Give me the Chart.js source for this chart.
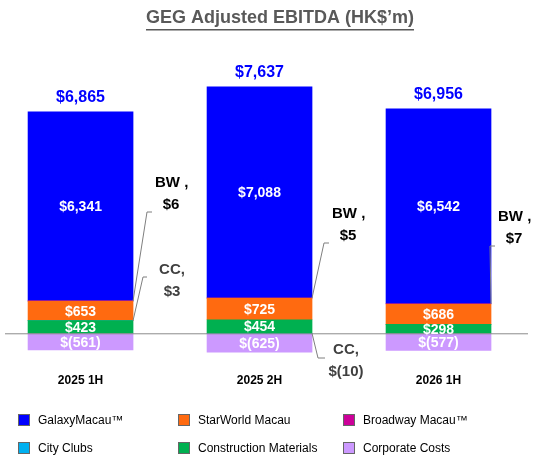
<!DOCTYPE html>
<html><head><meta charset="utf-8">
<script src="https://cdn.jsdelivr.net/npm/chart.js@4"></script>
<style>html,body{margin:0;background:#fff}#wrap{width:559px;height:462px}</style>
</head><body><div id="wrap"><canvas id="c" width="559" height="462"></canvas></div>
<script>
const periods = ['2025 1H', '2025 2H', '2026 1H'];
const galaxyMacau = [6341, 7088, 6542];
const starWorld = [653, 725, 686];
const broadway = [6, 5, 7];
const cityClubs = [3, -10, 0];
const construction = [423, 454, 298];
const corporate = [-561, -625, -577];
const totals = [6865, 7637, 6956];

const fmt = v => v < 0 ? '$(' + Math.abs(v).toLocaleString('en-US') + ')' : '$' + v.toLocaleString('en-US');
const pts = arr => arr.map((v, i) => ({x: i, y: v}));

const series = [
  {label: 'Construction Materials', data: construction, color: '#00B050', show: true},
  {label: 'City Clubs', data: cityClubs, color: '#00B0F0', show: false},
  {label: 'StarWorld Macau', data: starWorld, color: '#FF6A10', show: true},
  {label: 'Broadway Macau™', data: broadway, color: '#CC0099', show: false},
  {label: 'GalaxyMacau™', data: galaxyMacau, color: '#0000FF', show: true},
  {label: 'Corporate Costs', data: corporate, color: '#CC99FF', show: true}
];
const legendOrder = [
  ['GalaxyMacau™', '#0000FF'], ['StarWorld Macau', '#FF6A10'], ['Broadway Macau™', '#CC0099'],
  ['City Clubs', '#00B0F0'], ['Construction Materials', '#00B050'], ['Corporate Costs', '#CC99FF']
];

const extras = {
  id: 'extras',
  afterDatasetsDraw(chart) {
    const ctx = chart.ctx, xs = chart.scales.x, ys = chart.scales.y;
    ctx.save();
    // zero line
    ctx.strokeStyle = '#8c8c8c'; ctx.lineWidth = 1;
    ctx.beginPath(); ctx.moveTo(5, ys.getPixelForValue(0) + 0.5); ctx.lineTo(528, ys.getPixelForValue(0) + 0.5); ctx.stroke();
    // segment labels
    ctx.textAlign = 'center'; ctx.textBaseline = 'middle';
    ctx.font = 'bold 14px "Liberation Sans", Arial';
    chart.data.datasets.forEach((ds, di) => {
      if (!series[di].show) return;
      chart.getDatasetMeta(di).data.forEach((bar, i) => {
        ctx.fillStyle = '#fff';
        ctx.fillText(fmt(ds.data[i].y), bar.x, (bar.y + bar.base) / 2 + 1);
      });
    });
    // totals
    ctx.font = 'bold 16px "Liberation Sans", Arial'; ctx.fillStyle = '#0000FF';
    totals.forEach((t, i) => {
      const top = galaxyMacau[i] + starWorld[i] + broadway[i] + Math.max(cityClubs[i], 0) + construction[i];
      ctx.fillText(fmt(t), xs.getPixelForValue(i), ys.getPixelForValue(top) - 14);
    });
    // category labels
    ctx.font = 'bold 12px "Liberation Sans", Arial'; ctx.fillStyle = '#000';
    periods.forEach((p, i) => ctx.fillText(p, xs.getPixelForValue(i), 381));
    // callouts
    ctx.strokeStyle = '#7f7f7f'; ctx.lineWidth = 1;
    const line = p => { ctx.beginPath(); ctx.moveTo(p[0][0], p[0][1]); p.slice(1).forEach(q => ctx.lineTo(q[0], q[1])); ctx.stroke(); };
    const edge = i => xs.getPixelForValue(i) + 52.5;
    const y = v => ys.getPixelForValue(v);
    ctx.font = 'bold 15px "Liberation Sans", Arial'; ctx.fillStyle = '#000';
    const bw = [[155, 183], [332, 214], [498, 217]];
    bw.forEach(([lx, ly], i) => {
      const by = y(construction[i] + Math.max(cityClubs[i], 0) + starWorld[i] + broadway[i] / 2);
      line([[edge(i), by], [lx - 8, ly + 29], [lx - 3, ly + 29]]);
      ctx.textAlign = 'left';
      ctx.fillText('BW ,', lx, ly);
      ctx.textAlign = 'center';
      ctx.fillText(fmt(broadway[i]), lx + 16, ly + 22);
    });
    ctx.fillStyle = '#404040';
    line([[edge(0), y(construction[0] + 1)], [143, 277], [147, 277]]);
    ctx.textAlign = 'center';
    ctx.fillText('CC,', 172, 270); ctx.fillText(fmt(cityClubs[0]), 172, 292);
    line([[edge(1), y(0)], [318, 358], [325, 358]]);
    ctx.fillText('CC,', 346, 350); ctx.fillText(fmt(cityClubs[1]), 346, 372);
    // title
    ctx.font = 'bold 18px "Liberation Sans", Arial'; ctx.fillStyle = '#595959';
    const title = 'GEG Adjusted EBITDA (HK$\u2019m)';
    ctx.fillText(title, 280, 18);
    const tw = ctx.measureText(title).width;
    ctx.fillRect(280 - tw / 2, 29, tw, 1.5);
    // legend
    ctx.font = '12px "Liberation Sans", Arial'; ctx.textAlign = 'left';
    legendOrder.forEach(([name, col], k) => {
      const cx = [18, 178, 343][k % 3], cy = k < 3 ? 420 : 448;
      ctx.fillStyle = col; ctx.fillRect(cx, cy - 6, 12, 12);
      ctx.strokeStyle = '#666'; ctx.strokeRect(cx + 0.5, cy - 5.5, 11, 11);
      ctx.fillStyle = '#000'; ctx.fillText(name, cx + 20, cy + 1);
    });
    ctx.restore();
  }
};

new Chart(document.getElementById('c'), {
  type: 'bar',
  data: {
    datasets: series.map(s => ({
      label: s.label, data: pts(s.data), backgroundColor: s.color,
      barThickness: 105, borderWidth: 0
    }))
  },
  options: {
    responsive: false, animation: false,
    layout: {padding: {top: 45, bottom: 106, left: 0, right: 19}},
    plugins: {legend: {display: false}, tooltip: {enabled: false}},
    scales: {
      x: {type: 'linear', min: -0.45, max: 2.567, offset: false, stacked: true, display: false},
      y: {min: -762, max: 9672, stacked: true, display: false}
    }
  },
  plugins: [extras]
});
</script></body></html>
